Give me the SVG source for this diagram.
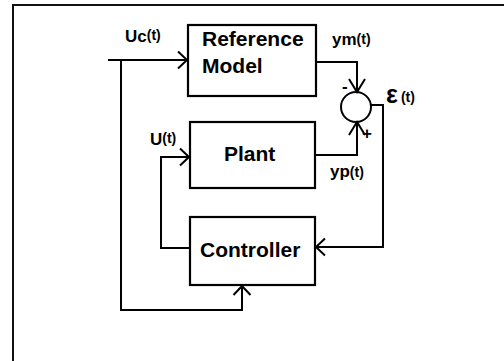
<svg xmlns="http://www.w3.org/2000/svg" width="504" height="361" viewBox="0 0 504 361">
<style>
.box{fill:#fff;stroke:#000;stroke-width:2.2}
.w{fill:none;stroke:#000;stroke-width:2}
.t{font-family:"Liberation Sans",Arial,sans-serif;font-weight:bold;fill:#000}
.big{font-size:21px}
.lab{font-size:17px}
.sm{font-size:14px}
</style>
<defs>
<marker id="a" markerUnits="userSpaceOnUse" markerWidth="20" markerHeight="20" refX="0" refY="0" viewBox="-12 -10 14 20" orient="auto" overflow="visible">
<path d="M-9,-8.5 L0,0 L-9,8.5" fill="none" stroke="#000" stroke-width="2"/>
</marker>
<marker id="b" markerUnits="userSpaceOnUse" markerWidth="20" markerHeight="20" refX="0" refY="0" viewBox="-16 -10 18 20" orient="auto" overflow="visible">
<path d="M-13,-8 L0,0 L-13,8" fill="none" stroke="#000" stroke-width="2"/>
</marker>
</defs>
<rect width="504" height="361" fill="#fff"/>
<path d="M13,361 V5 H504" fill="none" stroke="#111" stroke-width="2"/>
<g id="connectors">
<path class="w" d="M108,60 H187" marker-end="url(#a)"/>
<path class="w" d="M121,60 V310 H242 V286" marker-end="url(#a)"/>
<path class="w" d="M316,62 H357 V92" marker-end="url(#b)"/>
<path class="w" d="M316,155 H357 V122" marker-end="url(#b)"/>
<path class="w" d="M371,105 H383 V247 H316" marker-end="url(#a)"/>
<path class="w" d="M190,248 H161 V157 H189" marker-end="url(#a)"/>
</g>
<g id="reference-model">
<rect class="box" x="188" y="25" width="128" height="71"/>
<text class="t big" x="202" y="46">Reference</text>
<text class="t big" x="202" y="73">Model</text>
</g>
<g id="plant">
<rect class="box" x="190" y="122" width="125" height="66"/>
<text class="t big" x="224" y="161">Plant</text>
</g>
<g id="controller">
<rect class="box" x="190" y="217" width="125" height="68"/>
<text class="t big" x="200" y="257">Controller</text>
</g>
<g id="summer">
<circle cx="356" cy="107" r="15" fill="none" stroke="#000" stroke-width="2"/>
<text class="t lab" x="342" y="92">-</text>
<text class="t lab" x="362" y="139">+</text>
</g>
<g id="labels">
<text class="t lab" x="125" y="42">Uc<tspan class="sm" dy="-2">(t)</tspan></text>
<text class="t lab" x="332" y="45">ym<tspan class="sm" dy="-1">(t)</tspan></text>
<text class="t lab" x="150" y="145">U<tspan class="sm" dy="-2">(t)</tspan></text>
<text class="t lab" x="330" y="177">yp<tspan class="sm">(t)</tspan></text>
<text class="t" style="font-size:25px" x="386" y="103">ε<tspan class="sm" dx="3" dy="-1">(t)</tspan></text>
</g>
</svg>
